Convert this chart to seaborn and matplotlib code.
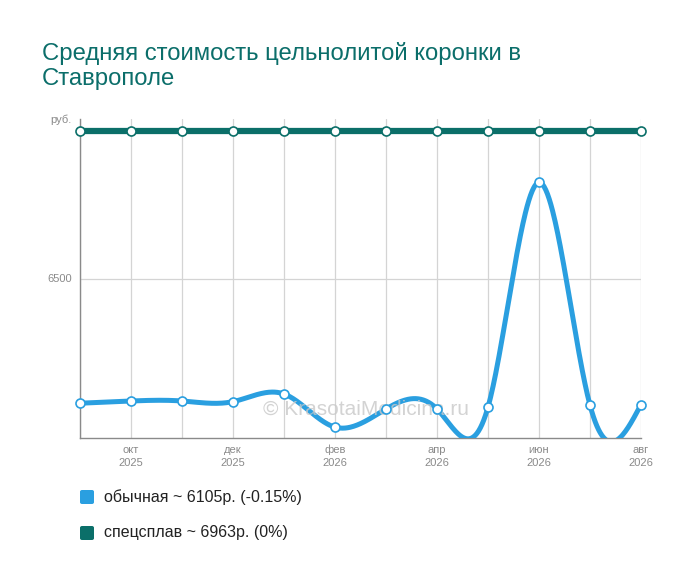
import numpy as np
import pandas as pd
import matplotlib
matplotlib.use("Agg")
import matplotlib.pyplot as plt
import seaborn as sns
from matplotlib.patches import FancyBboxPatch

months = ["сен\n2025", "окт\n2025", "ноя\n2025", "дек\n2025", "янв\n2026", "фев\n2026",
          "мар\n2026", "апр\n2026", "май\n2026", "июн\n2026", "июл\n2026", "авг\n2026"]
obych = [6109, 6116, 6116, 6114, 6138, 6034, 6091, 6091, 6097, 6801, 6103, 6105]
spec = [6963] * 12
legend_labels = ["обычная ~ 6105р. (-0.15%)", "спецсплав ~ 6963р. (0%)"]
title = "Средняя стоимость цельнолитой коронки в\nСтаврополе"
yticks = [6000, 6500, 7000]
ytick_labels = ["", "6500", "руб."]

BLUE = "#2a9fe0"
TEAL = "#0b6f69"


def natural_spline(y, n=60):
    y = np.asarray(y, float)
    k = len(y)
    A = np.zeros((k, k))
    b = np.zeros(k)
    A[0, 0] = A[-1, -1] = 1
    for i in range(1, k - 1):
        A[i, i - 1] = 1
        A[i, i] = 4
        A[i, i + 1] = 1
        b[i] = 6 * (y[i + 1] - 2 * y[i] + y[i - 1])
    M = np.linalg.solve(A, b)
    xs, ys = [], []
    for i in range(k - 1):
        t = np.linspace(0, 1, n, endpoint=(i == k - 2))
        a_ = 1 - t
        v = a_ * y[i] + t * y[i + 1] + ((a_ ** 3 - a_) * M[i] + (t ** 3 - t) * M[i + 1]) / 6
        xs.append(i + t)
        ys.append(v)
    return np.concatenate(xs), np.concatenate(ys)


sns.set_style("white")
plt.rcParams["font.family"] = ["Liberation Sans", "DejaVu Sans"]

fig = plt.figure(figsize=(7, 5.82), dpi=100)
ax = fig.add_axes([80 / 700, 1 - 438 / 582, (641 - 80) / 700, (438 - 119) / 582])

xi = np.arange(len(months))
for vals, col in [(obych, BLUE), (spec, TEAL)]:
    sx, sy = natural_spline(vals)
    sns.lineplot(x=sx, y=sy, ax=ax, color=col, lw=3.6 if col == BLUE else 4.5,
                 estimator=None, sort=False, zorder=3)
    sns.scatterplot(x=xi, y=vals, ax=ax, s=42, facecolor="white", edgecolor=col,
                    linewidth=1.2, zorder=5, clip_on=False)

ax.set_xlim(0, 11)
ax.set_ylim(6000, 7000)
ax.set_yticks(yticks)
ax.set_yticklabels(ytick_labels)
ax.set_xticks(xi[1::2])
ax.set_xticklabels(months[1::2])
ax.set_xticks(xi, minor=True)
ax.grid(False)
for x in xi:
    ax.axvline(x, color="#d4d4d4", lw=0.9, zorder=0)
ax.axhline(6500, color="#d4d4d4", lw=0.9, zorder=0)
for s in ["top", "right"]:
    ax.spines[s].set_visible(False)
for s in ["left", "bottom"]:
    ax.spines[s].set_color("#8a8a8a")
    ax.spines[s].set_linewidth(1.0)
ax.tick_params(axis="both", which="major", length=4, color="#8a8a8a",
               labelsize=8, labelcolor="#8a8a8a", direction="out", pad=2)
ax.tick_params(axis="x", which="minor", length=0)
ax.tick_params(axis="x", which="major", pad=1)
for lab in ax.get_xticklabels():
    lab.set_linespacing(1.35)
ax.set_xlabel("")
ax.set_ylabel("")

ax.text(0.51, 0.091, "© KrasotaiMedicina.ru", transform=ax.transAxes, ha="center",
        va="center", fontsize=15, color="#c8c8c8", alpha=0.8, zorder=4)

fig.text(42 / 700, 1 - 66 / 582, title, fontsize=17.2, color="#0b6e6a",
         ha="left", va="center", linespacing=1.15)

for i, (lab, col) in enumerate(zip(legend_labels, [BLUE, TEAL])):
    yc = 497 + i * 36
    patch = FancyBboxPatch((80 / 700, 1 - (yc + 7) / 582), 14 / 700, 14 / 582,
                           boxstyle="round,pad=0,rounding_size=0.003",
                           transform=fig.transFigure, facecolor=col, edgecolor="none")
    fig.patches.append(patch)
    fig.text(104 / 700, 1 - yc / 582, lab, fontsize=11.5, color="#222222",
             ha="left", va="center")

fig.savefig("out.png", dpi=100)
